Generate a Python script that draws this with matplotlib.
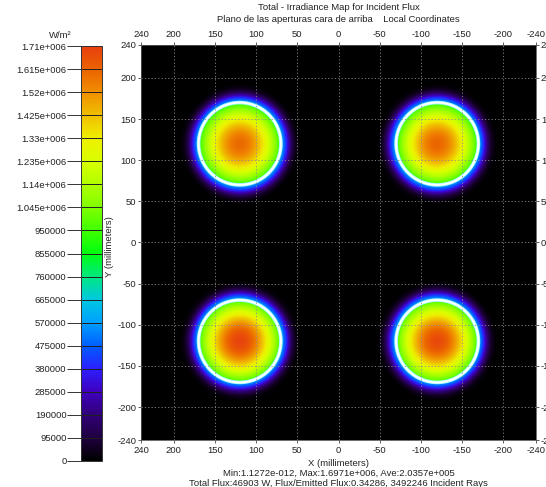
import numpy as np
import matplotlib
matplotlib.use("Agg")
import matplotlib.pyplot as plt
from matplotlib.colors import LinearSegmentedColormap
from matplotlib.patches import Circle

plt.rcParams['font.family'] = ['Liberation Sans', 'DejaVu Sans']

# Aperture spots on the upper face (local coordinates, mm)
spot_x = [120, -120, 120, -120]
spot_y = [120, 120, -120, -120]
spot_peak = [1.60e6, 1.61e6, 1.6971e6, 1.68e6]   # W/m^2 at spot centre
rim_inner = [0.92e6, 0.92e6, 0.94e6, 0.94e6]      # just inside aperture edge
rim_outer = [0.56e6, 0.56e6, 0.56e6, 0.56e6]      # just outside aperture edge
aperture_radius = 50.0
halo_width = 11.0

axis_ticks = [240, 200, 150, 100, 50, 0, -50, -100, -150, -200, -240]
grid_ticks = [200, 150, 100, 50, 0, -50, -100, -150, -200]

cbar_max = 1.71e6
cbar_ticks = [0, 95000, 190000, 285000, 380000, 475000, 570000, 665000, 760000,
              855000, 950000, 1.045e6, 1.14e6, 1.235e6, 1.33e6, 1.425e6,
              1.52e6, 1.615e6, 1.71e6]
cbar_labels = ["0", "95000", "190000", "285000", "380000", "475000", "570000",
               "665000", "760000", "855000", "950000", "1.045e+006", "1.14e+006",
               "1.235e+006", "1.33e+006", "1.425e+006", "1.52e+006",
               "1.615e+006", "1.71e+006"]

# Irradiance colour scale (black -> purple -> blue -> cyan -> green -> yellow -> red)
cmap = LinearSegmentedColormap.from_list("irradiance", [
    (0.000, "#000000"),
    (0.056, "#200040"),
    (0.111, "#30007a"),
    (0.167, "#4000c0"),
    (0.222, "#2a20ff"),
    (0.278, "#0060ff"),
    (0.333, "#00a0ff"),
    (0.389, "#00c8e0"),
    (0.444, "#00e880"),
    (0.500, "#00ff10"),
    (0.556, "#40ff00"),
    (0.611, "#80ff00"),
    (0.667, "#b0ff00"),
    (0.722, "#d8ff00"),
    (0.778, "#eef000"),
    (0.833, "#f0c000"),
    (0.889, "#f09000"),
    (0.944, "#ec6400"),
    (1.000, "#e84010"),
])

# Build the irradiance field on a 1 mm grid
n = 481
gx = np.linspace(-240, 240, n)
gy = np.linspace(-240, 240, n)
X, Y = np.meshgrid(gx, gy)
field = np.zeros_like(X)
for cx, cy, pk, ri, ro in zip(spot_x, spot_y, spot_peak, rim_inner, rim_outer):
    r = np.hypot(X - cx, Y - cy)
    k = np.log(pk / ri)
    inside = pk * np.exp(-k * (r / aperture_radius) ** 2)
    outside = ro * np.exp(-((r - aperture_radius) / halo_width) ** 2)
    field += np.where(r <= aperture_radius, inside, outside)

fig = plt.figure(figsize=(5.46, 4.87), dpi=100)
fig.patch.set_facecolor("white")

ax = fig.add_axes([141 / 546, 1 - 440 / 487, 395 / 546, 395 / 487])
im = ax.imshow(field, extent=(-240, 240, -240, 240), origin="lower",
               cmap=cmap, vmin=0, vmax=cbar_max, interpolation="bilinear",
               aspect="auto")
ax.set_xlim(240, -240)
ax.set_ylim(-240, 240)

for cx, cy in zip(spot_x, spot_y):
    ax.add_patch(Circle((cx, cy), aperture_radius, fill=False,
                        edgecolor="#9ff8ff", lw=2.6, zorder=3))
    ax.add_patch(Circle((cx, cy), aperture_radius, fill=False,
                        edgecolor="white", lw=1.4, zorder=4))

for g in grid_ticks:
    ax.axvline(g, color="#8a8a8a", lw=0.6, ls=(0, (1.5, 2.5)), zorder=5)
    ax.axhline(g, color="#8a8a8a", lw=0.6, ls=(0, (1.5, 2.5)), zorder=5)

ax.set_xticks(axis_ticks)
ax.set_yticks(axis_ticks)
ax.set_xticklabels([str(t) for t in axis_ticks])
ax.set_yticklabels([str(t) for t in axis_ticks])
ax.tick_params(axis="both", which="both", top=True, bottom=True, left=True,
               right=True, labeltop=True, labelbottom=True, labelleft=True,
               labelright=True, direction="out", length=2, width=0.6,
               color="#444444", labelsize=6.8, labelcolor="#222222", pad=1.5)
ax.tick_params(axis="x", pad=2.5)
for s in ax.spines.values():
    s.set_color("#555555")
    s.set_linewidth(0.6)

# Colour bar
cax = fig.add_axes([81 / 546, 1 - 461 / 487, 21 / 546, 415 / 487])
cb = fig.colorbar(im, cax=cax)
cb.outline.set_edgecolor("#333333")
cb.outline.set_linewidth(0.7)
cax.yaxis.set_ticks_position("left")
cb.set_ticks(cbar_ticks)
cb.set_ticklabels(cbar_labels)
cax.tick_params(axis="y", length=10, width=0.7, color="#333333",
                labelsize=6.8, labelcolor="#222222", pad=0.5)
for t in cbar_ticks:
    cax.axhline(t, color="#202020", lw=0.7)

txt = dict(color="#222222", fontsize=6.8, ha="center", va="center")
fig.text(60 / 546, 1 - 35 / 487, "W/m²", **txt)
fig.text(109 / 546, 1 - 247 / 487, "Y (millimeters)", rotation=90, **txt)
xc = (141 + 536) / 2 / 546
fig.text(xc, 1 - 7 / 487, "Total - Irradiance Map for Incident Flux", **txt)
fig.text(xc, 1 - 19 / 487,
         "Plano de las aperturas cara de arriba    Local Coordinates", **txt)
fig.text(xc, 1 - 463 / 487, "X (millimeters)", **txt)
fig.text(xc, 1 - 473 / 487,
         "Min:1.1272e-012, Max:1.6971e+006, Ave:2.0357e+005", **txt)
fig.text(xc, 1 - 483 / 487,
         "Total Flux:46903 W, Flux/Emitted Flux:0.34286, 3492246 Incident Rays",
         **txt)

fig.savefig("out.png", dpi=100, facecolor="white")
